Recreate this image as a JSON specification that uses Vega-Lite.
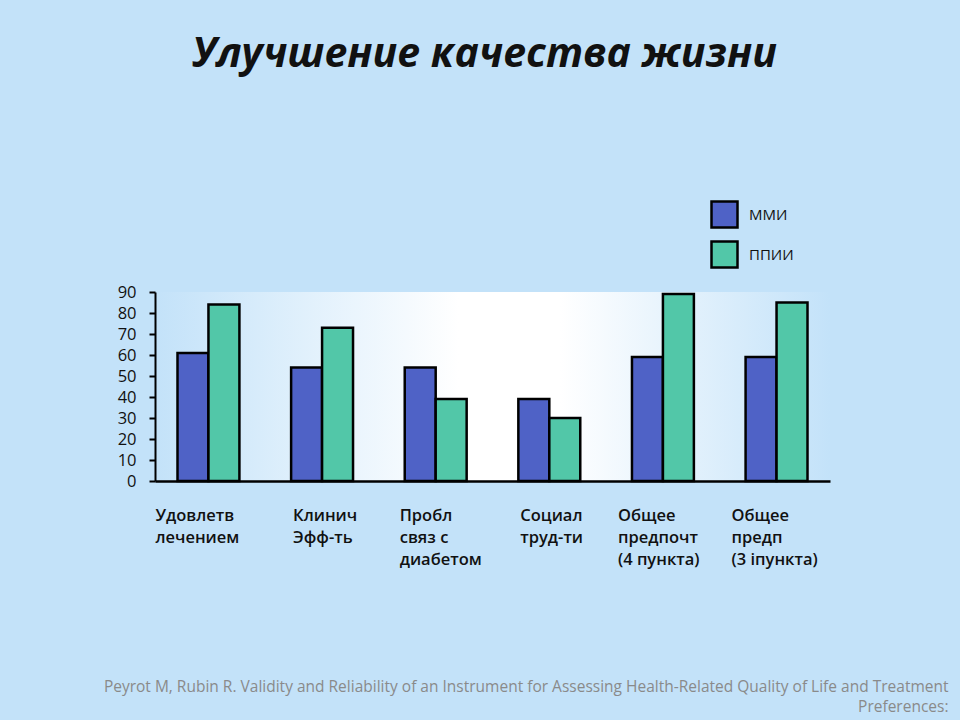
{
  "$schema": "https://vega.github.io/schema/vega-lite/v6.json",
  "width": 675,
  "height": 189,
  "autosize": "none",
  "padding": {"left": 155, "top": 292, "right": 130, "bottom": 239},
  "background": "#c3e2f9",
  "title": {
    "text": "Улучшение качества жизни",
    "font": "Open Sans",
    "fontSize": 41,
    "fontStyle": "italic",
    "fontWeight": "bold",
    "color": "#111111",
    "anchor": "middle",
    "frame": "group",
    "baseline": "alphabetic",
    "offset": 92,
    "dx": -8
  },
  "data": {
    "values": [
      {"cat": "Удовлетв|лечением", "group": "ММИ", "value": 61},
      {"cat": "Удовлетв|лечением", "group": "ППИИ", "value": 84},
      {"cat": "Клинич|Эфф-ть", "group": "ММИ", "value": 54},
      {"cat": "Клинич|Эфф-ть", "group": "ППИИ", "value": 73},
      {"cat": "Пробл|связ с|диабетом", "group": "ММИ", "value": 54},
      {"cat": "Пробл|связ с|диабетом", "group": "ППИИ", "value": 39},
      {"cat": "Социал|труд-ти", "group": "ММИ", "value": 39},
      {"cat": "Социал|труд-ти", "group": "ППИИ", "value": 30},
      {"cat": "Общее|\u2002предпочт|(4 пункта)", "group": "ММИ", "value": 59},
      {"cat": "Общее|\u2002предпочт|(4 пункта)", "group": "ППИИ", "value": 89},
      {"cat": "Общее|\u2002предп|(3 іпункта)", "group": "ММИ", "value": 59},
      {"cat": "Общее|\u2002предп|(3 іпункта)", "group": "ППИИ", "value": 85}
    ]
  },
  "mark": {"type": "bar", "stroke": "#000000", "strokeWidth": 2.5},
  "encoding": {
    "x": {
      "field": "cat",
      "type": "nominal",
      "sort": null,
      "scale": {"paddingInner": 0.455, "paddingOuter": 0.198},
      "axis": {
        "labelExpr": "split(datum.label, '|')",
        "labelAngle": 0,
        "labelFont": "Open Sans",
        "labelFontSize": 16.5,
        "labelFontWeight": 600,
        "labelColor": "#111111",
        "labelAlign": "left",
        "labelBaseline": "top",
        "labelLineHeight": 22,
        "labelPadding": 26,
        "labelOffset": {
          "condition": [
            {"test": "datum.value == 'Удовлетв|лечением'", "value": -53},
            {"test": "datum.value == 'Клинич|Эфф-ть'", "value": -29},
            {"test": "datum.value == 'Пробл|связ с|диабетом'", "value": -36},
            {"test": "datum.value == 'Социал|труд-ти'", "value": -29}
          ],
          "value": -45
        },
        "ticks": false,
        "domainColor": "#000000",
        "domainWidth": 2.5,
        "title": [
          "Peyrot M, Rubin R. Validity and Reliability of an Instrument for Assessing Health-Related Quality of Life and Treatment",
          "Preferences:",
          "The Insulin Delivery System Rating Questionnaire. Diabetes Care 2005; 28:53-58"
        ],
        "titleFont": "Open Sans",
        "titleFontSize": 15.5,
        "titleFontWeight": "normal",
        "titleColor": "#8a8a8a",
        "titleAlign": "right",
        "titleAnchor": "end",
        "titleBaseline": "top",
        "titleLineHeight": 20,
        "titleX": 793,
        "titleY": 198
      }
    },
    "xOffset": {"field": "group", "type": "nominal", "sort": ["ММИ", "ППИИ"]},
    "y": {
      "field": "value",
      "type": "quantitative",
      "scale": {"domain": [0, 90], "nice": false},
      "axis": {
        "values": [0, 10, 20, 30, 40, 50, 60, 70, 80, 90],
        "grid": false,
        "title": null,
        "labelFont": "Open Sans",
        "labelFontSize": 16.5,
        "labelColor": "#111111",
        "labelPadding": 13,
        "domainColor": "#000000",
        "domainWidth": 2,
        "tickColor": "#000000",
        "tickWidth": 2,
        "tickSize": 6
      }
    },
    "color": {
      "field": "group",
      "type": "nominal",
      "scale": {"domain": ["ММИ", "ППИИ"], "range": ["#4f62c6", "#52c7a8"]},
      "legend": {
        "title": null,
        "orient": "none",
        "legendX": 555,
        "legendY": -92,
        "symbolType": "square",
        "symbolSize": 676,
        "symbolStrokeColor": "#000000",
        "symbolStrokeWidth": 2.5,
        "symbolFillOpacity": 1,
        "labelFont": "Open Sans",
        "labelFontSize": 15,
        "labelColor": "#111111",
        "labelOffset": 10,
        "rowPadding": 3,
        "padding": 0
      }
    }
  },
  "config": {
    "view": {
      "stroke": null,
      "fill": {
        "gradient": "linear",
        "x1": 0, "y1": 0, "x2": 1, "y2": 0,
        "stops": [
          {"offset": 0, "color": "#c3e2f9"},
          {"offset": 0.45, "color": "#ffffff"},
          {"offset": 0.6, "color": "#ffffff"},
          {"offset": 1, "color": "#c3e2f9"}
        ]
      }
    }
  }
}
